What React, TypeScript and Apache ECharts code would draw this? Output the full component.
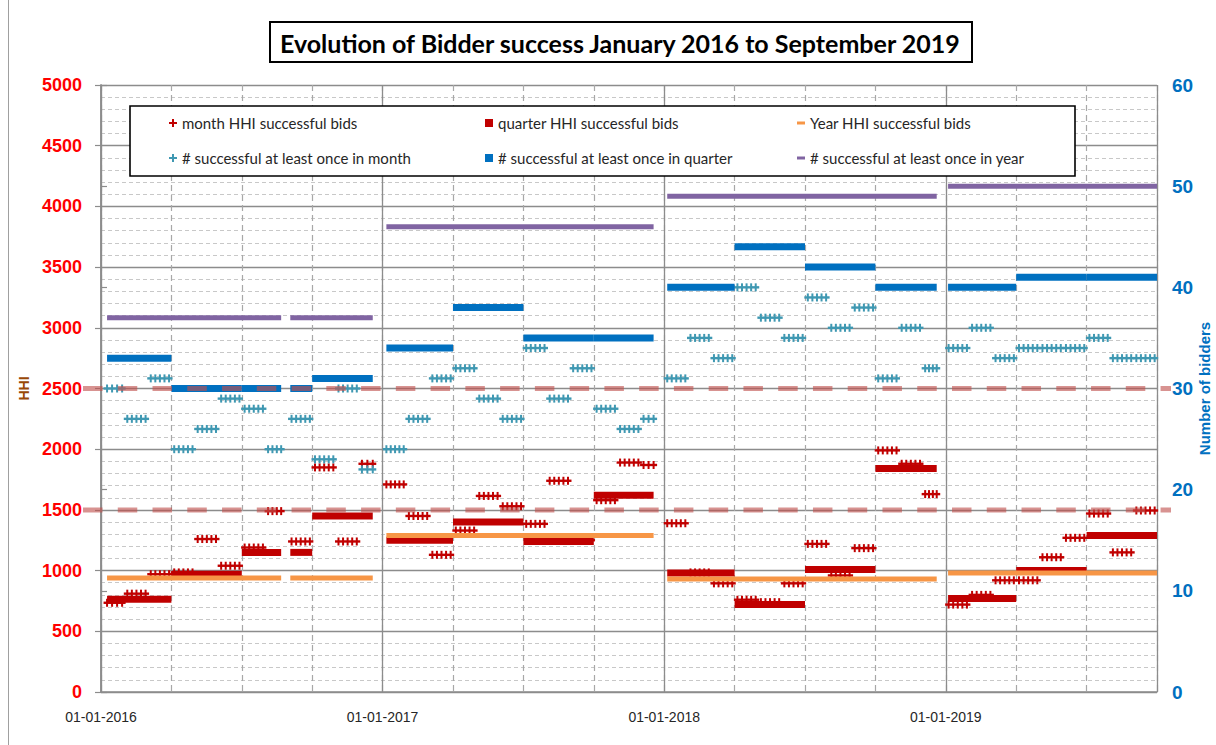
import React, { useEffect, useRef } from "react";
import * as echarts from "echarts";

const chartTitle = "Evolution of Bidder success January 2016 to September 2019";
const yearTickLabels = ["01-01-2016", "01-01-2017", "01-01-2018", "01-01-2019"];

const nameMonthHHI = "month HHI successful bids";
const nameQuarterHHI = "quarter HHI successful bids";
const nameYearHHI = "Year HHI successful bids";
const nameMonthBid = "# successful at least once in month";
const nameQuarterBid = "# successful at least once in quarter";
const nameYearBid = "# successful at least once in year";

const months = [
  "2016-01", "2016-02", "2016-03", "2016-04", "2016-05", "2016-06", "2016-07", "2016-08", "2016-09", "2016-10", "2016-11", "2016-12",
  "2017-01", "2017-02", "2017-03", "2017-04", "2017-05", "2017-06", "2017-07", "2017-08", "2017-09", "2017-10", "2017-11", "2017-12",
  "2018-01", "2018-02", "2018-03", "2018-04", "2018-05", "2018-06", "2018-07", "2018-08", "2018-09", "2018-10", "2018-11", "2018-12",
  "2019-01", "2019-02", "2019-03", "2019-04", "2019-05", "2019-06", "2019-07", "2019-08", "2019-09",
];
const monthHHI = [
  735, 810, 970, 985, 1260, 1040, 1190, 1490, 1240, 1850, 1240, 1880,
  1710, 1450, 1130, 1330, 1615, 1530, 1385, 1740, 1250, 1580, 1890, 1870,
  1390, 985, 895, 760, 740, 895, 1220, 960, 1185, 1990, 1880, 1630,
  720, 800, 920, 920, 1110, 1270, 1470, 1150, 1495,
];
const monthBidders = [
  30, 27, 31, 24, 26, 29, 28, 24, 27, 23, 30, 22,
  24, 27, 31, 32, 29, 27, 34, 29, 32, 28, 26, 27,
  31, 35, 33, 40, 37, 35, 39, 36, 38, 31, 36, 32,
  34, 36, 33, 34, 34, 34, 35, 33, 33,
];

const quarters = [
  "2016-Q1", "2016-Q2", "2016-Q3", "2016-Q4",
  "2017-Q1", "2017-Q2", "2017-Q3", "2017-Q4",
  "2018-Q1", "2018-Q2", "2018-Q3", "2018-Q4",
  "2019-Q1", "2019-Q2", "2019-Q3",
];
const quarterHHI = [765, 970, 1150, 1450, 1250, 1400, 1240, 1620, 980, 720, 1010, 1840, 770, 1000, 1290];
const quarterBidders = [33, 30, 30, 31, 34, 38, 35, 35, 40, 44, 42, 40, 40, 41, 41];

const years = ["2016", "2017", "2018", "2019"];
const yearHHI = [940, 1290, 930, 980];
const yearBidders = [37, 46, 49, 50];

const referenceHHI = [1500, 2500];

// periods in which auctions took place (first / last auction day)
const activePeriods: [string, string][] = [
  ["2016-01-09", "2016-08-22"],
  ["2016-09-03", "2016-12-19"],
  ["2017-01-06", "2017-12-18"],
  ["2018-01-05", "2018-12-20"],
  ["2019-01-04", "2019-10-01"],
];

const C_RED = "#c00000";
const C_TEAL = "#3f98b2";
const C_BLUE = "#0070c0";
const C_ORANGE = "#f79646";
const C_PURPLE = "#8064a2";

function toMonthIndex(d: string): number {
  const [y, m, day] = d.split("-").map(Number);
  const dim = new Date(y, m, 0).getDate();
  return (y - 2016) * 12 + (m - 1) + (day - 1) / dim;
}

function clipToActive(s: number, e: number): [number, number][] {
  const out: [number, number][] = [];
  for (const [a, b] of activePeriods) {
    const A = toMonthIndex(a);
    const B = toMonthIndex(b);
    const s2 = Math.max(s, A);
    const e2 = Math.min(e, B);
    if (e2 > s2) out.push([s2, e2]);
  }
  return out;
}

function monthData(values: number[]) {
  const out: number[][] = [];
  months.forEach((m, i) => {
    const s = toMonthIndex(m + "-01");
    clipToActive(s + 0.12, s + 0.9).forEach(([a, b]) => out.push([a, b, values[i]]));
  });
  return out;
}

function quarterData(values: number[]) {
  const out: number[][] = [];
  quarters.forEach((q, i) => {
    const [y, qq] = q.split("-Q").map(Number);
    const s = (y - 2016) * 12 + (qq - 1) * 3;
    clipToActive(s, s + 3).forEach(([a, b]) => out.push([a, b, values[i]]));
  });
  return out;
}

function yearData(values: number[]) {
  const out: number[][] = [];
  years.forEach((y, i) => {
    const s = (Number(y) - 2016) * 12;
    clipToActive(s, s + 12).forEach(([a, b]) => out.push([a, b, values[i]]));
  });
  return out;
}

function barSeries(name: string, color: string, data: number[][], yAxisIndex: number, width: number) {
  return {
    type: "custom",
    name,
    xAxisIndex: 0,
    yAxisIndex,
    data,
    encode: { x: [0, 1], y: 2 },
    itemStyle: { color },
    z: 2,
    renderItem: (params: any, api: any) => {
      const v = api.value(2);
      const p0 = api.coord([api.value(0), v]);
      const p1 = api.coord([api.value(1), v]);
      return {
        type: "line",
        shape: { x1: p0[0], y1: p0[1], x2: p1[0], y2: p1[1] },
        style: { stroke: color, lineWidth: width, lineCap: "butt" },
      };
    },
  };
}

function clusterSeries(name: string, color: string, data: number[][], yAxisIndex: number) {
  return {
    type: "custom",
    name,
    xAxisIndex: 0,
    yAxisIndex,
    data,
    encode: { x: [0, 1], y: 2 },
    itemStyle: { color },
    z: 2,
    renderItem: (params: any, api: any) => {
      const v = api.value(2);
      const p0 = api.coord([api.value(0), v]);
      const p1 = api.coord([api.value(1), v]);
      const children: any[] = [
        {
          type: "line",
          shape: { x1: p0[0] - 3.5, y1: p0[1], x2: p1[0] + 3.5, y2: p1[1] },
          style: { stroke: color, lineWidth: 2.4 },
        },
      ];
      const n = Math.max(1, Math.round((p1[0] - p0[0]) / 4.5));
      for (let k = 0; k <= n; k++) {
        const x = p0[0] + ((p1[0] - p0[0]) * k) / n;
        children.push({
          type: "line",
          shape: { x1: x, y1: p0[1] - 4, x2: x, y2: p0[1] + 4 },
          style: { stroke: color, lineWidth: 2 },
        });
      }
      return { type: "group", children };
    },
  };
}

const plusIcon = "path://M3,0h2v3h3v2h-3v3h-2v-3h-3v-2h3z";
const legendText = { color: "#262626", fontSize: 15, fontFamily: "Lato", lineHeight: 16 };

export default function App() {
  const ref = useRef<HTMLDivElement>(null);
  useEffect(() => {
    if (!ref.current) return;
    const chart = echarts.init(ref.current, null, { renderer: "svg" });
    const option: any = {
      animation: false,
      backgroundColor: "#ffffff",
      title: {
        text: chartTitle,
        left: 270,
        top: 22,
        padding: [6, 10, 5, 10],
        borderColor: "#000000",
        borderWidth: 2,
        textStyle: { fontFamily: "Lato", fontWeight: "bold", fontSize: 25, color: "#000000", lineHeight: 29 },
      },
      grid: { left: 101, right: 59, top: 85, bottom: 53, containLabel: false, outerBoundsMode: "none" },
      legend: [
        {
          left: 164, top: 110, orient: "vertical", itemWidth: 8, itemHeight: 8, itemGap: 19,
          selectedMode: false, textStyle: legendText, z: 6,
          data: [{ name: nameMonthHHI, icon: plusIcon }, { name: nameMonthBid, icon: plusIcon }],
        },
        {
          left: 480, top: 110, orient: "vertical", itemWidth: 8, itemHeight: 8, itemGap: 19,
          selectedMode: false, textStyle: legendText, z: 6,
          data: [{ name: nameQuarterHHI, icon: "rect" }, { name: nameQuarterBid, icon: "rect" }],
        },
        {
          left: 792, top: 110, orient: "vertical", itemWidth: 8, itemHeight: 3, itemGap: 19,
          selectedMode: false, textStyle: legendText, z: 6,
          data: [{ name: nameYearHHI, icon: "rect" }, { name: nameYearBid, icon: "rect" }],
        },
      ],
      graphic: [
        { type: "line", shape: { x1: 8.5, y1: 0, x2: 8.5, y2: 745 }, style: { stroke: "#a0a0a0", lineWidth: 1 }, z: 0 },
        {
          type: "rect", shape: { x: 130, y: 106, width: 945, height: 70 },
          style: { fill: "#ffffff", stroke: "#000000", lineWidth: 1.6 }, z: 5,
        },
      ],
      xAxis: [
        {
          type: "value", min: 0, max: 45, interval: 3, position: "bottom",
          axisLine: { show: true, lineStyle: { color: "#8c8c8c", width: 1.5 } },
          axisTick: { show: false },
          axisLabel: {
            formatter: (v: number) => (v % 12 === 0 ? yearTickLabels[v / 12] : ""),
            margin: 18, color: "#262626", fontSize: 14, fontFamily: "Liberation Sans",
          },
          splitLine: { show: true, lineStyle: { color: "#a8a8a8", type: [6, 4], width: 1.2 } },
        },
        {
          type: "value", min: 0, max: 45, interval: 12, position: "bottom",
          axisLine: { show: false }, axisTick: { show: false }, axisLabel: { show: false },
          splitLine: { show: true, lineStyle: { color: "#8c8c8c", width: 1.3 } },
        },
      ],
      yAxis: [
        {
          type: "value", min: 0, max: 5000, interval: 500,
          name: "HHI", nameLocation: "middle", nameGap: 70, nameRotate: 90,
          nameTextStyle: { color: "#984807", fontWeight: "bold", fontSize: 14, fontFamily: "Liberation Sans" },
          axisLine: { show: true, lineStyle: { color: "#8c8c8c", width: 1.5 } },
          axisTick: { show: true, length: 6, lineStyle: { color: "#8c8c8c", width: 1.2 } },
          axisLabel: {
            color: "#ff0000", fontWeight: "bold", fontSize: 18, fontFamily: "Liberation Sans", margin: 19,
            formatter: (v: number) => String(v),
          },
          splitLine: { show: true, lineStyle: { color: "#8c8c8c", width: 1.3 } },
          minorTick: { show: false, splitNumber: 5 },
          minorSplitLine: { show: true, lineStyle: { color: "#c8c8c8", type: [4, 3], width: 1 } },
        },
        {
          type: "value", min: 0, max: 60, interval: 10, position: "right",
          name: "Number of bidders", nameLocation: "middle", nameGap: 40, nameRotate: 90,
          nameMoveOverlap: false,
          nameTextStyle: { color: C_BLUE, fontWeight: "bold", fontSize: 15, fontFamily: "Liberation Sans" },
          axisLine: { show: true, lineStyle: { color: "#8c8c8c", width: 1.5 } },
          axisTick: { show: true, length: 6, lineStyle: { color: "#8c8c8c", width: 1.2 } },
          axisLabel: { color: C_BLUE, fontWeight: "bold", fontSize: 19, fontFamily: "Liberation Sans", margin: 15 },
          splitLine: { show: false },
        },
      ],
      series: [
        clusterSeries(nameMonthHHI, C_RED, monthData(monthHHI), 0),
        barSeries(nameQuarterHHI, C_RED, quarterData(quarterHHI), 0, 7),
        barSeries(nameYearHHI, C_ORANGE, yearData(yearHHI), 0, 5),
        clusterSeries(nameMonthBid, C_TEAL, monthData(monthBidders), 1),
        barSeries(nameQuarterBid, C_BLUE, quarterData(quarterBidders), 1, 7),
        barSeries(nameYearBid, C_PURPLE, yearData(yearBidders), 1, 5),
        {
          type: "custom",
          name: "reference",
          xAxisIndex: 0,
          yAxisIndex: 0,
          data: referenceHHI.map((v) => [v]),
          encode: { y: 0 },
          clip: false,
          z: 3,
          silent: true,
          renderItem: (params: any, api: any) => {
            const y = api.coord([0, api.value(0)])[1];
            const cs = params.coordSys;
            return {
              type: "line",
              shape: { x1: cs.x - 18, y1: y, x2: cs.x + cs.width + 14, y2: y },
              style: { stroke: "rgba(192,80,77,0.62)", lineWidth: 5, lineDash: [19.5, 15.26] },
            };
          },
        },
      ],
    };
    chart.setOption(option);
    return () => chart.dispose();
  }, []);
  return (
    <div
      ref={ref}
      style={{ position: "fixed", left: 0, top: 0, width: 1216, height: 745, background: "#ffffff" }}
    />
  );
}
